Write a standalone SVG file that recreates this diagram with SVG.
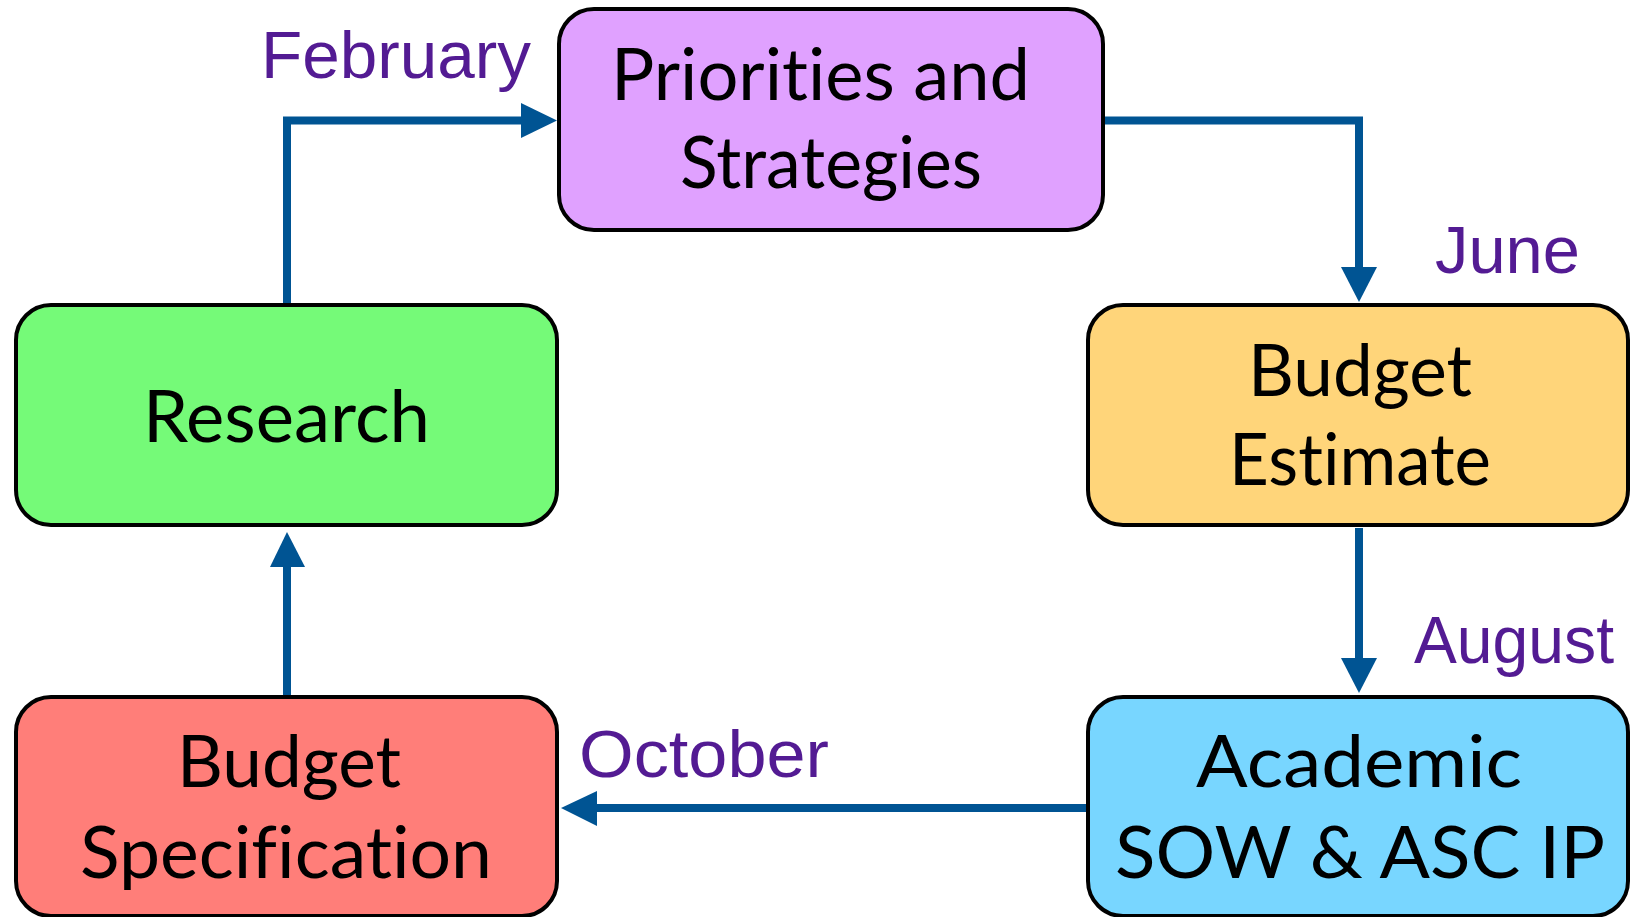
<svg xmlns="http://www.w3.org/2000/svg" width="1631" height="917" viewBox="0 0 1631 917">
<style>
.box{stroke:#000;stroke-width:4}
.t{font-family:Lato,"Noto Sans",sans-serif;font-size:72px;fill:#000;font-variant-ligatures:none;font-feature-settings:"liga" 0,"clig" 0}
.lbl{font-family:"Liberation Sans","DejaVu Sans",sans-serif;font-size:66px;fill:#531B93}
.wire{fill:none;stroke:#005493;stroke-width:8}
.head{fill:#005493}
</style>
<rect width="1631" height="917" fill="#fff"/>
<g id="connectors">
<path class="wire" d="M287 305 V120.5 H524"/>
<polygon class="head" points="521,103 557,120.5 521,138"/>
<path class="wire" d="M1105 120.5 H1359 V270"/>
<polygon class="head" points="1341,267 1377,267 1359,302"/>
<path class="wire" d="M1359 528 V661"/>
<polygon class="head" points="1341,658 1377,658 1359,693"/>
<path class="wire" d="M1086 808 H594"/>
<polygon class="head" points="597,791 597,826 561,808"/>
<path class="wire" d="M287 695 V564"/>
<polygon class="head" points="270,567 305,567 287,532"/>
</g>
<g id="priorities">
<rect class="box" x="559" y="9" width="544" height="221" rx="35" fill="#E0A1FF"/>
<text class="t" x="611" y="100" textLength="419" lengthAdjust="spacingAndGlyphs">Priorities and</text>
<text class="t" x="680" y="188" textLength="302" lengthAdjust="spacingAndGlyphs">Strategies</text>
</g>
<g id="research">
<rect class="box" x="16" y="305" width="541" height="220" rx="35" fill="#75FA78"/>
<text class="t" x="143" y="442" textLength="287" lengthAdjust="spacingAndGlyphs">Research</text>
</g>
<g id="budget-estimate">
<rect class="box" x="1088" y="305" width="540" height="220" rx="35" fill="#FFD57A"/>
<text class="t" x="1248" y="396" textLength="224" lengthAdjust="spacingAndGlyphs">Budget</text>
<text class="t" x="1229" y="485" textLength="262" lengthAdjust="spacingAndGlyphs">Estimate</text>
</g>
<g id="budget-specification">
<rect class="box" x="16" y="697" width="541" height="219" rx="35" fill="#FF7E79"/>
<text class="t" x="177" y="787" textLength="224" lengthAdjust="spacingAndGlyphs">Budget</text>
<text class="t" x="80" y="878" textLength="412" lengthAdjust="spacingAndGlyphs">Specification</text>
</g>
<g id="academic">
<rect class="box" x="1088" y="697" width="540" height="219" rx="35" fill="#78D6FF"/>
<text class="t" x="1196" y="787" textLength="326" lengthAdjust="spacingAndGlyphs">Academic</text>
<text class="t" x="1115" y="878" textLength="490" lengthAdjust="spacingAndGlyphs">SOW &amp; ASC IP</text>
</g>
<g id="labels">
<text class="lbl" x="261" y="78" textLength="270" lengthAdjust="spacingAndGlyphs">February</text>
<text class="lbl" x="1435" y="273" textLength="145" lengthAdjust="spacingAndGlyphs">June</text>
<text class="lbl" x="1414" y="663" textLength="200" lengthAdjust="spacingAndGlyphs">August</text>
<text class="lbl" x="579" y="777" textLength="250" lengthAdjust="spacingAndGlyphs">October</text>
</g>
</svg>
